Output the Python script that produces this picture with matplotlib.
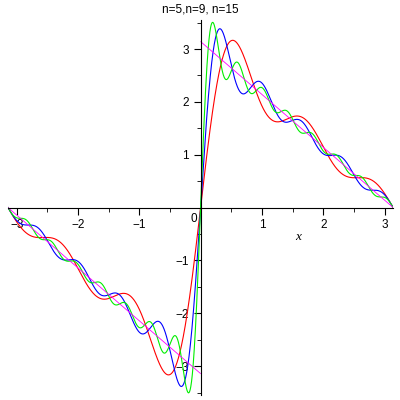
import numpy as np
import matplotlib.pyplot as plt
from matplotlib.ticker import MultipleLocator

plt.rcParams["font.family"] = "Liberation Sans"

# partial sums of the sine series of the odd extension of pi - x: b_k = 2/k
orders = [5, 9, 15]
colors = ["red", "blue", "#00ee00"]
title = "n=5,n=9, n=15"

x = np.linspace(-np.pi, np.pi, 2001)

fig = plt.figure(figsize=(4, 4), dpi=100)
ax = fig.add_axes([0.02, 0.012, 0.963, 0.938])

for n, c in zip(orders, colors):
    k = np.arange(1, n + 1)
    y = (2.0 / k * np.sin(np.outer(x, k))).sum(axis=1)
    ax.plot(x, y, color=c, lw=0.8)

target = np.where(x >= 0, np.pi - x, -np.pi - x)
target[x == 0] = np.nan
ax.plot(x, target, color="magenta", lw=0.6)

ax.set_xlim(-np.pi, np.pi)
ax.set_ylim(-3.55, 3.55)
for s in ["top", "right"]:
    ax.spines[s].set_visible(False)
ax.spines["left"].set_position(("data", 0))
ax.spines["bottom"].set_position(("data", 0))
ax.xaxis.set_major_locator(MultipleLocator(1))
ax.xaxis.set_minor_locator(MultipleLocator(0.5))
ax.yaxis.set_major_locator(MultipleLocator(1))
ax.yaxis.set_minor_locator(MultipleLocator(0.5))
ax.tick_params(which="both", direction="out", labelsize=8.5)
ax.tick_params(which="major", length=5)
ax.tick_params(which="minor", length=3)
ax.set_xticks([-3, -2, -1, 1, 2, 3])
ax.set_yticks([-3, -2, -1, 1, 2, 3])
ax.text(-0.06, -0.1, "0", ha="right", va="top", fontsize=8.5)
ax.text(1.55, -0.62, "x", style="italic", fontsize=9.5, family="Liberation Serif")
fig.text(0.5, 0.99, title, ha="center", va="top", fontsize=8.5)

fig.savefig("out.png")
